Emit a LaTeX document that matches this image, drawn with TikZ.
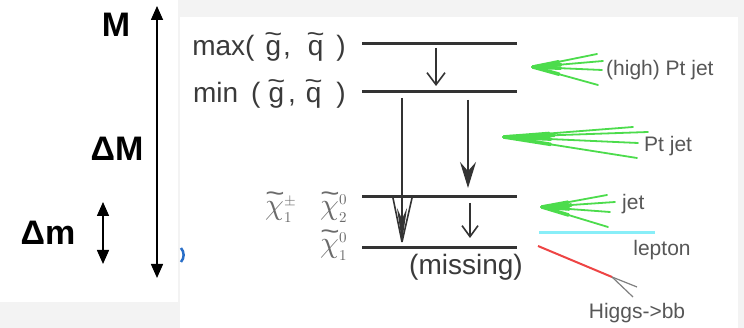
\documentclass[tikz,border=0pt]{standalone}
\usepackage{fontspec}
\usepackage{unicode-math}
\setmainfont{Liberation Sans}
\setmathfont{Latin Modern Math}
\usetikzlibrary{arrows.meta,calc}
\definecolor{bgray}{HTML}{F3F3F3}
\definecolor{txtgray}{HTML}{3A3A3A}
\definecolor{lvl}{HTML}{333333}
\definecolor{jetgreen}{HTML}{4CDC4C}
\definecolor{lepcyan}{HTML}{88EEF8}
\definecolor{higgsred}{HTML}{EE4444}
\newsavebox\tlbox
\newcommand\wtl[2][0.47em]{\leavevmode\sbox\tlbox{#2}\rlap{\hbox to \wd\tlbox{\hss\raisebox{#1}{\scalebox{1.1}[0.9]{\textasciitilde}}\hss}}\usebox\tlbox}
\begin{document}
\begin{tikzpicture}[x=1pt,y=-1pt,
  bigbold/.style={font=\fontsize{34}{36}\selectfont\bfseries, inner sep=0pt},
  maintxt/.style={font=\fontsize{28}{30}\selectfont, text=txtgray, inner sep=0pt},
  lab/.style={font=\fontsize{21}{23}\selectfont, text=txtgray!85, inner sep=0pt},
  chi/.style={font=\fontsize{30}{32}\selectfont, text=txtgray!75, inner sep=0pt},
  level/.style={draw=lvl, line width=3pt},
  dbl/.style={line width=1.6pt, {Triangle[length=14pt,width=12pt]}-{Triangle[length=14pt,width=12pt]}},
  decay/.style={line width=1.6pt, draw=lvl},
  jet/.style={draw=jetgreen, line width=1.8pt, line cap=round},
  jetbase/.style={draw=jetgreen, line width=3.6pt, line cap=round},
]
\useasboundingbox (0,0) rectangle (744,328);
\fill[bgray] (0,0) rectangle (744,328);
\fill[white] (0,0) rectangle (178,302);
\fill[white] (180,17) rectangle (738,328);

% left scale
\node[bigbold] (M) at (116,25) {M};
\node[bigbold] (dM) at (117,149) {ΔM};
\node[bigbold] (dm) at (48,233) {Δm};
\coordinate (Mt) at (157,6);
\coordinate (Mb) at (157,278);
\draw[dbl] (Mt) -- (Mb);
\coordinate (mt) at (103,202);
\coordinate (mb) at (103,264);
\draw[dbl] (mt) -- (mb);
\coordinate (blobA) at (181,248);
\coordinate (blobB) at (181,262);
\draw[draw={rgb,255:red,40;green,110;blue,200}, line width=2.5pt] (blobA) to[bend left=40] (blobB);

% levels
\coordinate (l1a) at (362,44); \coordinate (l1b) at (517,44);
\coordinate (l2a) at (362,92); \coordinate (l2b) at (517,92);
\coordinate (l3a) at (362,197); \coordinate (l3b) at (517,197);
\coordinate (l4a) at (362,248); \coordinate (l4b) at (517,248);
\draw[level] (l1a) -- (l1b);
\draw[level] (l2a) -- (l2b);
\draw[level] (l3a) -- (l3b);
\draw[level] (l4a) -- (l4b);

\node[maintxt, anchor=east] (lmax) at (346,47) {max(\hspace{11pt}\wtl{g}\hspace{2pt},\hspace{17pt}\wtl{q}\hspace{13pt})};
\node[maintxt, anchor=east] (lmin) at (346,94) {min\hspace{13pt}(\hspace{8pt}\wtl{g}\hspace{4pt},\hspace{10pt}\wtl{q}\hspace{15pt})};
\node[chi] (c1p) at (281,207) {\wtl[0.42em]{$\chi$}$^{\scriptscriptstyle\pm}_{\scriptscriptstyle 1}$};
\node[chi] (c20) at (334,207) {\wtl[0.42em]{$\chi$}$^{\scriptscriptstyle 0}_{\scriptscriptstyle 2}$};
\node[chi] (c10) at (334,245) {\wtl[0.42em]{$\chi$}$^{\scriptscriptstyle 0}_{\scriptscriptstyle 1}$};
\node[maintxt] (miss) at (466,267) {(missing)};

% decay arrows
\coordinate (a1s) at (436,48); \coordinate (a1e) at (436,86);
\draw[decay, -{Straight Barb[length=12pt,width=18pt,line width=1.6pt]}] (a1s) -- (a1e);
\coordinate (a2s) at (402,98); \coordinate (a2e) at (402,242);
\draw[decay, -{Stealth[length=34pt,width=10pt]}] (a2s) -- (a2e);
\draw[decay, line width=1.6pt] (a2e) -- ++(-9,-44);
\draw[decay, line width=1.6pt] (a2e) -- ++(10,-44);
\coordinate (a3s) at (468,100); \coordinate (a3e) at (468,188);
\draw[decay, -{Stealth[length=26pt,width=16pt,inset=9pt]}] (a3s) -- (a3e);
\coordinate (a4s) at (470,203); \coordinate (a4e) at (470,238);
\draw[decay, -{Straight Barb[length=11pt,width=16pt,line width=1.6pt]}] (a4s) -- (a4e);

% jets
\coordinate (j1) at (533,67);
\coordinate (j1a) at (597,54); \coordinate (j1b) at (603,61);
\coordinate (j1c) at (602,70); \coordinate (j1d) at (598,85);
\foreach \e in {j1a,j1b,j1c,j1d} {\draw[jet] (j1) -- (\e); \draw[jetbase] (j1) -- ($(j1)!0.4!(\e)$);}
\node[lab, anchor=west] (t1) at (606,70) {(high) Pt jet};

\coordinate (j2) at (504,137);
\coordinate (j2a) at (633,127); \coordinate (j2b) at (648,132);
\coordinate (j2c) at (638,143); \coordinate (j2d) at (637,158);
\foreach \e in {j2a,j2b,j2c,j2d} {\draw[jet] (j2) -- (\e); \draw[jetbase] (j2) -- ($(j2)!0.35!(\e)$);}
\node[lab, anchor=west] (t2) at (644,146) {Pt jet};

\coordinate (j3) at (542,207);
\coordinate (j3a) at (607,195); \coordinate (j3b) at (615,202);
\coordinate (j3c) at (610,212); \coordinate (j3d) at (608,227);
\foreach \e in {j3a,j3b,j3c,j3d} {\draw[jet] (j3) -- (\e); \draw[jetbase] (j3) -- ($(j3)!0.4!(\e)$);}
\node[lab, anchor=west] (t3) at (622,204) {jet};

\coordinate (lp1) at (539,233); \coordinate (lp2) at (655,233);
\draw[draw=lepcyan, line width=3pt] (lp1) -- (lp2);
\node[lab] (t4) at (662,250) {lepton};

\coordinate (h1) at (538,246); \coordinate (h2) at (612,277);
\draw[draw=higgsred, line width=2pt] (h1) -- (h2);
\coordinate (b1) at (637,287); \coordinate (b2) at (633,297);
\draw[draw=gray, line width=1.2pt] (h2) -- (b1);
\draw[draw=gray, line width=1.2pt] (h2) -- (b2);
\node[lab] (t5) at (637,313) {Higgs->bb};
\end{tikzpicture}
\end{document}
